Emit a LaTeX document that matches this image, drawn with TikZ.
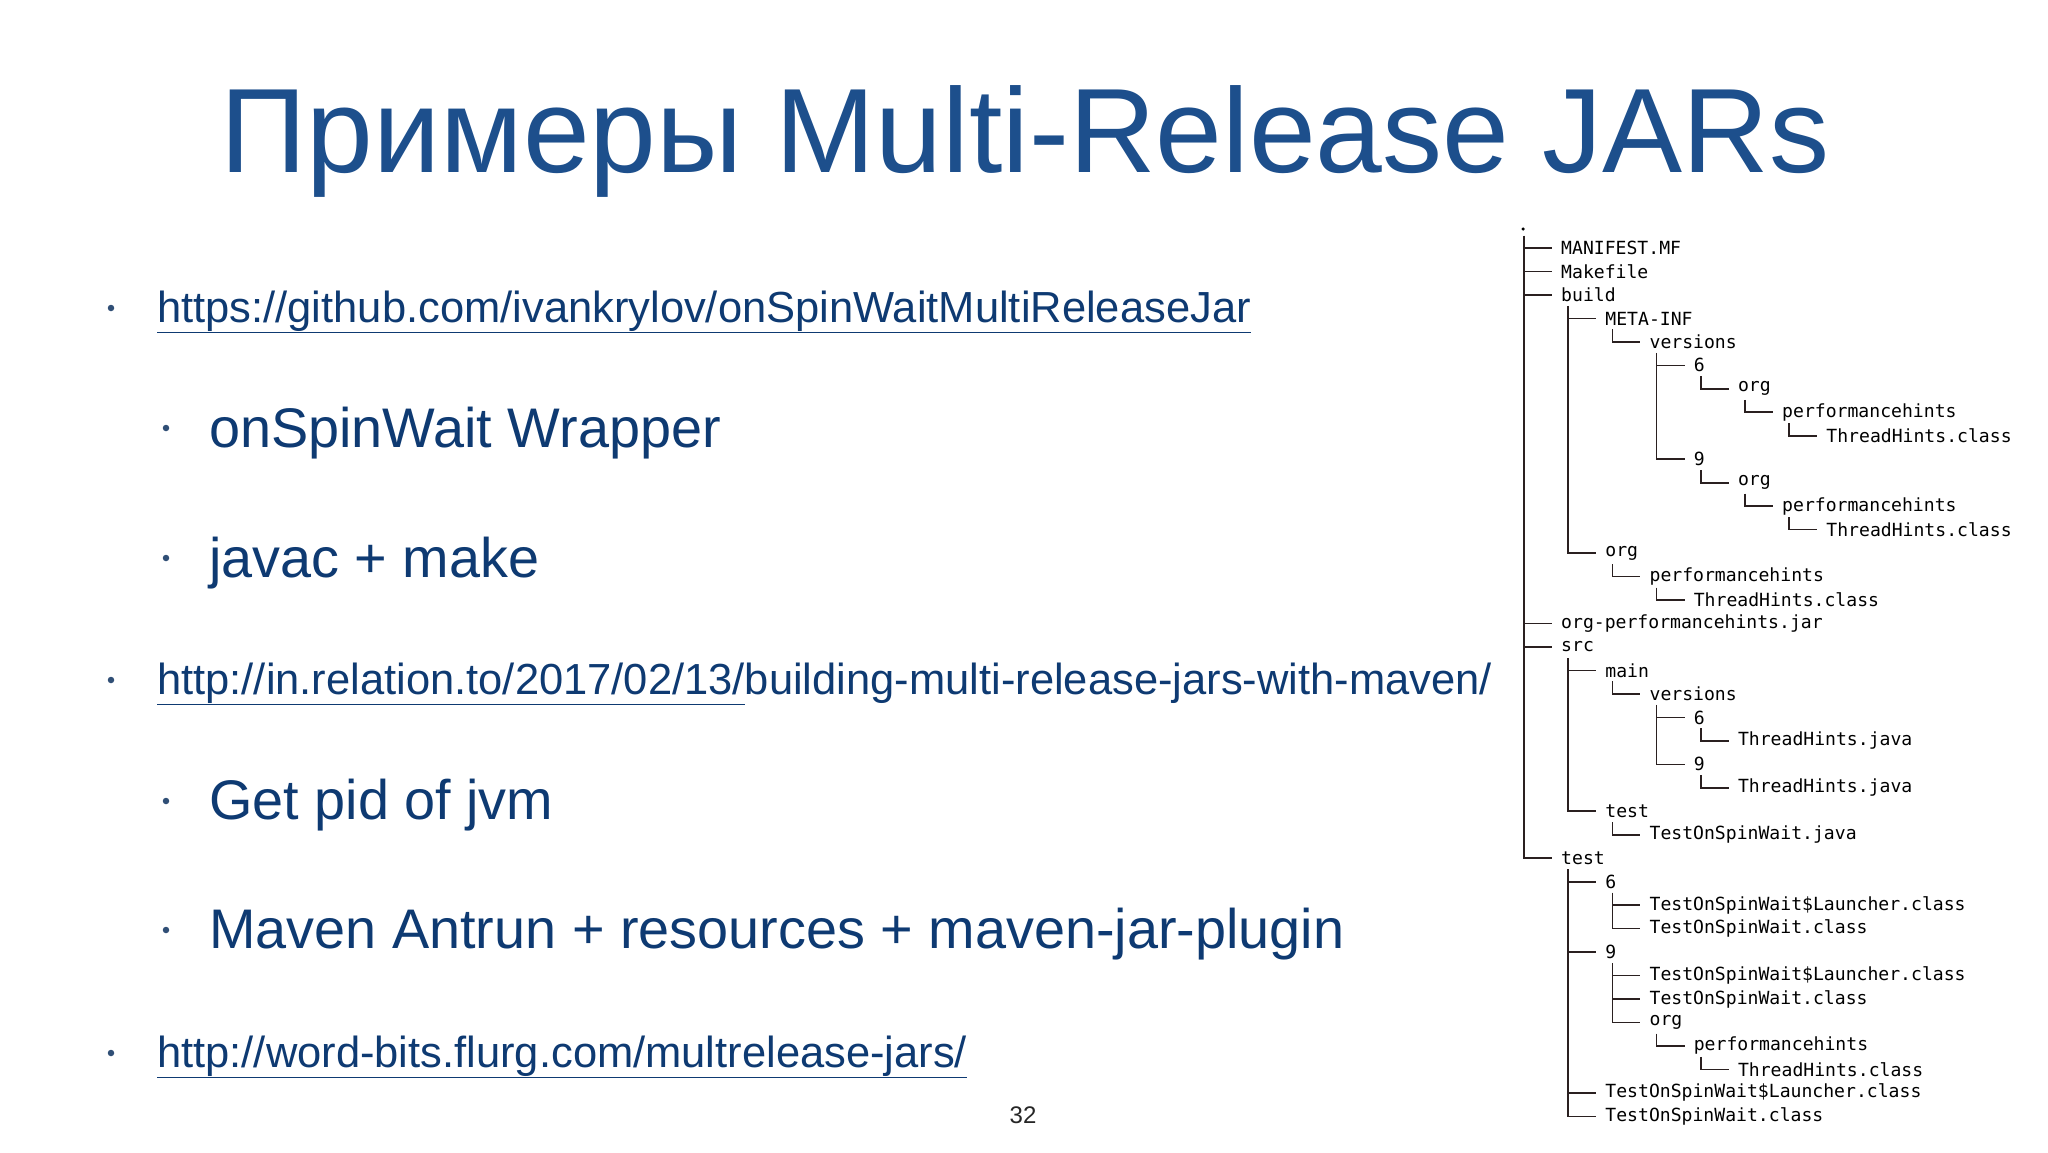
\documentclass[tikz,border=0pt]{standalone}
\usepackage{fontspec}
\setmainfont{Liberation Sans}
\newfontfamily\treefont{DejaVu Sans Mono}
\definecolor{titleblue}{HTML}{1D4F8C}
\definecolor{navy}{HTML}{0E3A72}
\definecolor{treeline}{HTML}{2A2020}
\newcommand{\ul}[1]{\underline{#1}}
\begin{document}
\begin{tikzpicture}[x=1pt,y=-1pt,
  bullettext/.style={anchor=base west,inner sep=0pt,text=navy},
  dotb/.style={circle,fill=navy!70!gray,inner sep=0pt,minimum size=6.5pt},
  treetext/.style={anchor=west,inner sep=0pt,font=\treefont\fontsize{18.1}{20}\selectfont,text=black},
  tline/.style={draw=treeline,line width=1.6pt}]
\useasboundingbox (0,0) rectangle (2048,1152);
\fill[white] (0,0) rectangle (2048,1152);
\node[anchor=base,inner sep=0pt,text=titleblue,font=\fontsize{120}{126}\selectfont] (title) at (1025,172) {Примеры Multi-Release JARs};
% bullets
\node[dotb] (b1) at (111,308) {};
\node[bullettext,font=\fontsize{43.5}{48}\selectfont] (t1) at (157,322) {\ul{https://github.com/ivankrylov/onSpinWaitMultiReleaseJar}};
\node[dotb] (b2) at (166,428) {};
\node[bullettext,font=\fontsize{55.8}{60}\selectfont] (t2) at (209,447) {onSpinWait Wrapper};
\node[dotb] (b3) at (166,558) {};
\node[bullettext,font=\fontsize{55.8}{60}\selectfont] (t3) at (209,577) {javac + make};
\node[dotb] (b4) at (111,680) {};
\node[bullettext,font=\fontsize{43.5}{48}\selectfont] (t4) at (157,694) {\ul{http://in.relation.to/2017/02/13/}building-multi-release-jars-with-maven/};
\node[dotb] (b5) at (166,801) {};
\node[bullettext,font=\fontsize{55.8}{60}\selectfont] (t5) at (209,819) {Get pid of jvm};
\node[dotb] (b6) at (166,930) {};
\node[bullettext,font=\fontsize{55.8}{60}\selectfont] (t6) at (209,948) {Maven Antrun + resources + maven-jar-plugin};
\node[dotb] (b7) at (111,1053) {};
\node[bullettext,font=\fontsize{43.5}{48}\selectfont] (t7) at (157,1067) {\ul{http://word-bits.flurg.com/multrelease-jars/}};
\node[anchor=base,inner sep=0pt,font=\fontsize{24}{28}\selectfont,text=black!85] (pg) at (1023,1123) {32};
% tree
\node[circle,fill=black,inner sep=0pt,minimum size=3.5pt] (root) at (1523,229) {};
\foreach \i/\l/\t in {0/0/MANIFEST.MF,1/0/Makefile,2/0/build,3/1/META-INF,4/2/versions,5/3/6,6/4/org,7/5/performancehints,8/6/ThreadHints.class,9/3/9,10/4/org,11/5/performancehints,12/6/ThreadHints.class,13/1/org,14/2/performancehints,15/3/ThreadHints.class,16/0/org-performancehints.jar,17/0/src,18/1/main,19/2/versions,20/3/6,21/4/ThreadHints.java,22/3/9,23/4/ThreadHints.java,24/1/test,25/2/TestOnSpinWait.java,26/0/test,27/1/6,28/2/TestOnSpinWait\$Launcher.class,29/2/TestOnSpinWait.class,30/1/9,31/2/TestOnSpinWait\$Launcher.class,32/2/TestOnSpinWait.class,33/2/org,34/3/performancehints,35/4/ThreadHints.class,36/1/TestOnSpinWait\$Launcher.class,37/1/TestOnSpinWait.class}{
  \pgfmathsetmacro\yy{248+23.47*\i}
  \pgfmathsetmacro\xx{1561+44.2*\l}
  \pgfmathsetmacro\xl{\xx-37}
  \node[treetext] (r\i) at (\xx,\yy) {\t};
  \draw[tline] (\xl,\yy) -- ([xshift=-9pt]r\i.west);
}
\foreach \p/\c/\l in {-1/26/0,2/13/1,3/4/2,4/9/3,5/6/4,6/7/5,7/8/6,9/10/4,10/11/5,11/12/6,13/14/2,14/15/3,17/24/1,18/19/2,19/22/3,20/21/4,22/23/4,24/25/2,26/37/1,27/29/2,30/33/2,33/34/3,34/35/4}{
  \pgfmathsetmacro\ya{248+23.47*\p+11}
  \pgfmathsetmacro\yb{248+23.47*\c+0.8}
  \pgfmathsetmacro\xl{1561+44.2*\l-37}
  \draw[tline] (\xl,\ya) -- (\xl,\yb);
}
\end{tikzpicture}
\end{document}
